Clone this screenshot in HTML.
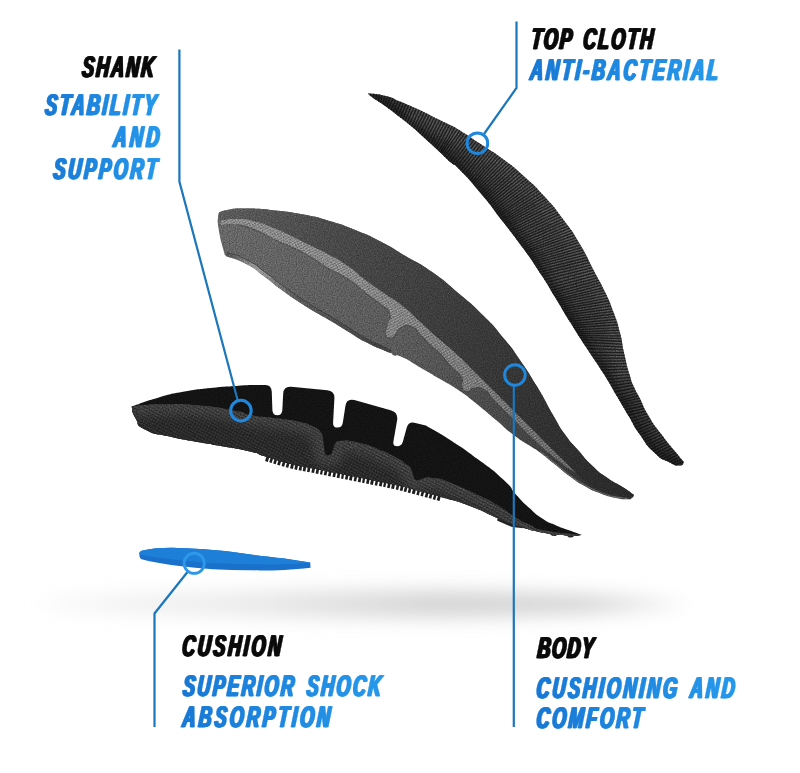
<!DOCTYPE html>
<html><head><meta charset="utf-8"><title>Insole layers</title>
<style>
html,body{margin:0;padding:0;background:#fff;}
body{width:800px;height:773px;overflow:hidden;}
svg{display:block}
text{font-family:"Liberation Sans",sans-serif;font-weight:700;font-style:italic;}
</style></head><body>
<svg width="800" height="773" viewBox="0 0 800 773">
<defs>
 <linearGradient id="tg1" gradientUnits="userSpaceOnUse" x1="-1.0" y1="0" x2="194.0" y2="0"><stop offset="0" stop-color="#1878d4"/><stop offset="1" stop-color="#2699ec"/></linearGradient>
 <linearGradient id="tg2" gradientUnits="userSpaceOnUse" x1="-115.0" y1="0" x2="80.0" y2="0"><stop offset="0" stop-color="#1878d4"/><stop offset="1" stop-color="#2699ec"/></linearGradient>
 <linearGradient id="tg3" gradientUnits="userSpaceOnUse" x1="-15.0" y1="0" x2="180.0" y2="0"><stop offset="0" stop-color="#1878d4"/><stop offset="1" stop-color="#2699ec"/></linearGradient>
 <linearGradient id="tg5" gradientUnits="userSpaceOnUse" x1="-2.7" y1="0" x2="314.0" y2="0"><stop offset="0" stop-color="#1878d4"/><stop offset="1" stop-color="#2699ec"/></linearGradient>
 <linearGradient id="tg7" gradientUnits="userSpaceOnUse" x1="-2.5" y1="0" x2="339.2" y2="0"><stop offset="0" stop-color="#1878d4"/><stop offset="1" stop-color="#2699ec"/></linearGradient>
 <linearGradient id="tg8" gradientUnits="userSpaceOnUse" x1="-1.7" y1="0" x2="340.0" y2="0"><stop offset="0" stop-color="#1878d4"/><stop offset="1" stop-color="#2699ec"/></linearGradient>
 <linearGradient id="tg10" gradientUnits="userSpaceOnUse" x1="0.0" y1="0" x2="335.0" y2="0"><stop offset="0" stop-color="#1878d4"/><stop offset="1" stop-color="#2699ec"/></linearGradient>
 <linearGradient id="tg11" gradientUnits="userSpaceOnUse" x1="0.0" y1="0" x2="335.0" y2="0"><stop offset="0" stop-color="#1878d4"/><stop offset="1" stop-color="#2699ec"/></linearGradient>
 <linearGradient id="shadg" gradientUnits="userSpaceOnUse" x1="40" y1="0" x2="684" y2="0"><stop offset="0" stop-color="#d2d2d2" stop-opacity="0.2"/><stop offset="0.3" stop-color="#d2d2d2" stop-opacity="0.42"/><stop offset="0.62" stop-color="#d0d0d0" stop-opacity="0.9"/><stop offset="0.85" stop-color="#d0d0d0" stop-opacity="0.85"/><stop offset="1" stop-color="#d2d2d2" stop-opacity="0.3"/></linearGradient>
 <radialGradient id="shad" cx="0.5" cy="0.5" r="0.5"><stop offset="0" stop-color="#cfcfcf"/><stop offset="0.6" stop-color="#e4e4e4"/><stop offset="1" stop-color="#ffffff"/></radialGradient>
 <filter id="blur" x="-20%" y="-100%" width="140%" height="300%"><feGaussianBlur stdDeviation="11 9"/></filter>
 <linearGradient id="clothg" gradientUnits="userSpaceOnUse" x1="420" y1="100" x2="660" y2="460"><stop offset="0" stop-color="#404040"/><stop offset="0.45" stop-color="#4e4e4e"/><stop offset="1" stop-color="#3c3c3c"/></linearGradient>
 <linearGradient id="bodyg" gradientUnits="userSpaceOnUse" x1="225" y1="212" x2="620" y2="490"><stop offset="0" stop-color="#5a5a5a"/><stop offset="0.2" stop-color="#4a4a4a"/><stop offset="0.55" stop-color="#3a3a3a"/><stop offset="1" stop-color="#2a2a2a"/></linearGradient>
 <linearGradient id="sideg" gradientUnits="userSpaceOnUse" x1="225" y1="235" x2="600" y2="485"><stop offset="0" stop-color="#666"/><stop offset="0.45" stop-color="#5a5a5a"/><stop offset="0.8" stop-color="#444"/><stop offset="1" stop-color="#333"/></linearGradient>
 <linearGradient id="lipg" gradientUnits="userSpaceOnUse" x1="225" y1="255" x2="390" y2="352"><stop offset="0" stop-color="#505050"/><stop offset="0.18" stop-color="#9a9a9a"/><stop offset="0.42" stop-color="#5a5a5a"/><stop offset="1" stop-color="#404040"/></linearGradient>
 <pattern id="weave" width="2.6" height="2.6" patternUnits="userSpaceOnUse" patternTransform="rotate(-28)"><rect width="2.6" height="1.3" fill="#fff" opacity="0.22"/><rect y="1.3" width="2.6" height="1.3" fill="#000" opacity="0.12"/><rect x="0" width="0.7" height="2.6" fill="#555" opacity="0.35"/></pattern>
 <pattern id="ribs" width="2.3" height="8" patternUnits="userSpaceOnUse" patternTransform="rotate(-38)"><rect width="1.0" height="8" fill="#000" opacity="0.35"/><rect x="1.2" width="0.8" height="8" fill="#fff" opacity="0.07"/></pattern>
 <pattern id="hatch" width="3" height="3" patternUnits="userSpaceOnUse" patternTransform="rotate(28)"><rect width="3" height="3" fill="none"/><rect width="3" height="1.1" fill="#000" opacity="0.35"/><rect width="1.1" height="3" fill="#fff" opacity="0.05"/></pattern>
 <filter id="grain" x="0" y="0" width="100%" height="100%" color-interpolation-filters="sRGB"><feTurbulence type="fractalNoise" baseFrequency="0.85" numOctaves="2" seed="3" result="n"/><feColorMatrix type="matrix" values="1.4 0 0 0 -0.2  1.4 0 0 0 -0.2  1.4 0 0 0 -0.2  0 0 0 0 1"/></filter>
 <linearGradient id="faceg" gradientUnits="userSpaceOnUse" x1="300" y1="415" x2="290" y2="468"><stop offset="0" stop-color="#383838"/><stop offset="0.5" stop-color="#2c2c2c"/><stop offset="1" stop-color="#1c1c1c"/></linearGradient>
 <linearGradient id="bandg" gradientUnits="userSpaceOnUse" x1="225" y1="220" x2="575" y2="470"><stop offset="0" stop-color="#8a8a8a"/><stop offset="0.35" stop-color="#868686"/><stop offset="0.7" stop-color="#727272"/><stop offset="1" stop-color="#5c5c5c"/></linearGradient>
 <clipPath id="cpFace"><path d="M131.6,406.6 C136.1,406.1 133.9,405.8 145.0,405.0 C156.1,404.2 147.5,404.2 165.0,404.3 C182.5,404.4 173.8,403.1 197.6,405.3 C221.4,407.5 218.9,407.8 236.4,411.0 C253.9,414.2 235.1,412.4 250.0,415.0 C264.9,417.6 264.3,416.4 281.0,418.7 C297.7,421.0 289.7,419.6 300.0,422.0 C310.3,424.4 305.7,423.3 312.0,426.0 C318.3,428.7 316.7,428.7 319.0,430.0 L320.8,432.0 Q322.5,434.0 322.8,437.0 L324.5,452.5 Q324.8,455.5 327.8,455.5 L328.0,455.5 Q331.0,455.5 332.0,452.7 L335.0,444.0 Q336.0,441.2 339.0,441.0 L347.3,440.4 C351.5,441.3 351.0,440.6 360.0,443.0 C369.0,445.4 362.5,442.9 374.2,447.6 C385.9,452.3 384.4,451.5 395.0,457.0 C405.6,462.5 402.3,461.7 406.0,464.0 L408.7,466.1 Q411.0,468.0 411.8,470.9 L413.7,477.6 Q414.5,480.5 417.2,480.2 L417.2,480.2 Q420.0,480.0 422.7,478.7 L422.9,478.5 Q425.6,477.2 428.6,477.5 L441.0,479.0 C447.3,481.6 447.0,481.1 460.0,486.8 C473.0,492.5 467.3,489.8 480.0,496.0 C492.7,502.2 485.9,498.2 498.0,505.5 C510.1,512.8 505.7,511.5 516.4,518.0 C527.1,524.5 520.5,520.8 530.0,525.0 C539.5,529.2 527.6,527.2 544.9,530.5 C562.2,533.8 569.6,533.5 582.0,535.0 C577.3,535.2 580.4,536.2 568.0,535.5 C555.6,534.8 562.1,536.3 544.9,533.0 C527.7,529.7 531.9,530.3 516.4,525.5 C500.9,520.7 513.8,525.0 498.3,518.5 C482.8,512.0 489.1,513.2 470.0,506.0 C450.9,498.8 459.3,502.3 441.0,497.0 C422.7,491.7 430.5,494.0 415.2,490.0 C399.9,486.0 408.7,488.1 395.0,485.0 C381.3,481.9 388.0,483.6 374.2,480.8 C360.4,478.0 367.3,479.4 353.5,476.6 C339.7,473.8 346.6,475.3 332.8,472.5 C319.0,469.7 325.8,471.1 312.0,468.3 C298.2,465.5 306.5,468.0 291.4,464.2 C276.3,460.4 280.4,461.2 266.6,457.0 C252.8,452.8 264.4,455.0 250.0,451.5 C235.6,448.0 241.0,449.7 223.5,446.5 C206.0,443.3 214.9,445.2 197.6,442.0 C180.3,438.8 188.9,441.0 171.7,437.0 C154.5,433.0 158.0,436.3 145.9,430.0 C133.8,423.7 140.3,426.0 135.5,418.2 C130.7,410.4 132.9,410.5 131.6,406.6 Z"/></clipPath>
 <filter id="b4" x="-10%" y="-30%" width="120%" height="160%"><feGaussianBlur stdDeviation="5"/></filter>
 <clipPath id="cpCloth"><path d="M367.8,93.3 C373.8,94.2 375.6,93.4 385.9,96.0 C396.2,98.6 390.2,97.5 398.8,101.0 C407.4,104.5 403.1,102.7 411.7,106.5 C420.3,110.3 416.1,108.3 424.7,112.4 C433.3,116.5 429.0,114.6 437.6,118.9 C446.2,123.2 443.1,121.4 450.6,125.3 C458.1,129.2 449.5,123.9 460.0,130.5 C470.5,137.1 467.7,135.5 482.0,145.0 C496.3,154.5 489.0,148.7 502.8,159.0 C516.6,169.3 509.8,163.7 523.5,176.0 C537.2,188.3 530.5,181.2 544.0,196.0 C557.5,210.8 552.2,204.7 564.0,220.5 C575.8,236.3 569.5,226.7 579.5,243.5 C589.5,260.3 585.5,254.8 594.0,271.0 C602.5,287.2 598.5,278.2 605.0,292.0 C611.5,305.8 608.6,298.9 613.6,312.5 C618.6,326.1 616.5,319.1 620.0,332.8 C623.5,346.5 621.1,339.7 624.2,353.5 C627.3,367.3 626.0,362.7 629.4,374.2 C632.8,385.7 631.1,380.1 634.5,388.0 C637.9,395.9 634.9,388.6 639.7,398.0 C644.5,407.4 641.6,404.1 648.8,416.2 C656.0,428.3 652.3,422.2 661.4,434.3 C670.5,446.4 668.5,443.3 676.0,452.5 C683.5,461.7 681.3,458.8 684.0,462.0 C682.5,463.2 684.7,465.5 679.6,465.5 C674.5,465.5 677.2,466.3 668.7,462.0 C660.2,457.7 663.9,461.7 654.2,452.5 C644.5,443.3 648.2,446.4 639.7,434.3 C631.2,422.2 636.0,428.3 628.8,416.2 C621.6,404.1 626.4,412.2 618.0,398.0 C609.6,383.8 613.8,390.0 603.5,373.5 C593.2,357.0 598.0,365.5 587.0,348.5 C576.0,331.5 580.8,339.2 570.4,322.5 C560.0,305.8 565.6,314.3 555.9,298.5 C546.2,282.7 552.4,291.8 541.4,275.0 C530.4,258.2 535.9,265.8 523.0,248.0 C510.1,230.2 516.5,239.2 502.8,221.5 C489.1,203.8 496.3,212.0 482.0,194.8 C467.7,177.6 470.5,180.9 460.0,170.0 C449.5,159.1 458.1,168.9 450.6,162.2 C443.1,155.5 446.2,157.9 437.6,149.9 C429.0,141.9 433.3,146.1 424.7,138.3 C416.1,130.5 420.3,133.9 411.7,126.6 C403.1,119.3 407.4,123.0 398.8,116.3 C390.2,109.6 394.5,112.7 385.9,106.5 C377.3,100.3 378.9,102.2 372.9,97.8 C366.9,93.4 369.5,94.8 367.8,93.3 Z"/></clipPath>
 <clipPath id="cpBody"><path d="M218.0,215.9 C220.6,214.0 214.7,212.6 225.9,210.2 C237.1,207.8 234.5,208.4 251.7,208.6 C268.9,208.8 260.3,208.7 277.6,210.7 C294.9,212.7 286.2,211.2 303.5,214.6 C320.8,218.0 312.2,215.9 329.4,221.0 C346.6,226.1 338.0,223.1 355.2,230.0 C372.4,236.9 364.1,233.0 381.0,241.7 C397.9,250.4 389.0,246.2 405.9,256.2 C422.8,266.2 414.5,259.6 431.7,271.7 C448.9,283.8 440.3,277.7 457.6,292.4 C474.9,307.1 468.0,300.2 483.5,315.7 C499.0,331.2 492.1,324.3 504.2,339.0 C516.3,353.7 508.8,343.8 519.7,359.7 C530.6,375.6 526.0,368.3 537.0,386.6 C548.0,404.9 543.4,398.5 552.7,414.5 C562.0,430.5 556.7,422.8 565.0,434.5 C573.3,446.2 568.3,439.0 577.5,449.5 C586.7,460.0 582.5,456.5 592.5,466.0 C602.5,475.5 597.5,471.0 607.5,478.0 C617.5,485.0 613.7,481.3 622.5,487.0 C631.3,492.7 630.2,492.3 634.0,495.0 C633.3,496.0 634.3,496.6 632.0,498.0 C629.7,499.4 632.7,499.4 627.0,499.3 C621.3,499.2 624.0,499.8 615.0,497.8 C606.0,495.8 610.0,497.1 600.0,493.3 C590.0,489.5 595.0,491.9 585.0,486.3 C575.0,480.7 580.0,483.8 570.0,476.5 C560.0,469.2 565.0,472.5 555.0,464.5 C545.0,456.5 548.1,458.6 540.0,452.5 C531.9,446.4 539.6,452.3 530.6,446.3 C521.6,440.3 524.5,443.3 513.0,434.5 C501.5,425.7 508.3,430.3 496.0,420.0 C483.7,409.7 488.9,413.6 476.2,403.5 C463.5,393.4 470.1,398.0 458.0,389.8 C445.9,381.6 452.5,386.4 440.0,379.0 C427.5,371.6 433.1,374.9 420.6,367.7 C408.1,360.5 411.4,361.4 402.5,357.3 C393.6,353.2 397.8,356.9 394.0,355.5 C390.2,354.1 394.2,354.7 391.0,353.0 C387.8,351.3 392.6,354.1 384.3,350.5 C376.0,346.9 378.3,348.7 366.2,342.3 C354.1,335.9 360.1,338.7 348.0,331.4 C335.9,324.1 339.8,326.3 330.0,320.5 C320.2,314.7 328.5,319.8 318.7,314.0 C308.9,308.2 312.7,310.8 300.6,303.0 C288.5,295.2 294.6,299.4 282.5,290.6 C270.4,281.8 276.4,285.4 264.3,276.5 C252.2,267.6 259.0,270.8 246.2,264.0 C233.4,257.2 232.7,258.7 225.9,256.0 C225.0,253.8 225.7,258.6 223.3,249.5 C220.9,240.4 220.4,240.0 218.6,228.8 C216.8,217.6 218.2,220.2 218.0,215.9 Z"/></clipPath>
 <clipPath id="cpShank"><path d="M131.6,406.6 C140.7,403.6 141.1,402.5 158.8,397.5 C176.5,392.5 167.4,394.8 184.7,391.6 C202.0,388.4 193.4,389.9 210.6,388.0 C227.8,386.1 220.0,386.9 236.4,385.9 C252.8,384.9 251.9,385.3 259.7,385.0 L265.6,385.1 Q271.5,385.2 271.8,392.2 L272.4,410.3 Q272.6,415.3 277.3,415.3 L277.3,415.3 Q282.0,415.3 282.3,410.3 L283.2,393.5 Q283.6,386.0 291.1,386.7 L327.3,390.3 Q334.8,391.0 334.4,398.5 L333.1,422.6 Q332.8,427.6 337.4,427.6 L337.4,427.6 Q342.0,427.6 342.8,422.7 L345.4,405.9 Q346.6,398.0 354.3,400.1 L390.7,410.2 Q398.4,412.3 397.1,420.2 L393.4,441.4 Q392.6,446.3 397.1,446.3 L397.1,446.3 Q401.6,446.3 402.9,441.5 L406.6,428.0 Q408.5,421.3 415.3,422.9 L425.9,425.4 C434.5,430.6 434.5,429.7 451.7,440.9 C468.9,452.1 460.3,446.1 477.6,459.0 C494.9,471.9 490.6,467.7 503.5,479.7 C516.4,491.7 507.8,485.6 516.4,495.0 C525.0,504.4 520.8,500.2 529.4,508.0 C538.0,515.8 533.7,512.8 542.3,518.5 C550.9,524.2 546.6,521.2 555.2,525.0 C563.8,528.8 559.3,526.7 568.2,530.0 C577.1,533.3 577.4,533.3 582.0,535.0 C577.3,535.2 580.4,536.2 568.0,535.5 C555.6,534.8 562.1,536.3 544.9,533.0 C527.7,529.7 531.9,530.3 516.4,525.5 C500.9,520.7 513.8,525.0 498.3,518.5 C482.8,512.0 489.1,513.2 470.0,506.0 C450.9,498.8 459.3,502.3 441.0,497.0 C422.7,491.7 430.5,494.0 415.2,490.0 C399.9,486.0 408.7,488.1 395.0,485.0 C381.3,481.9 388.0,483.6 374.2,480.8 C360.4,478.0 367.3,479.4 353.5,476.6 C339.7,473.8 346.6,475.3 332.8,472.5 C319.0,469.7 325.8,471.1 312.0,468.3 C298.2,465.5 306.5,468.0 291.4,464.2 C276.3,460.4 280.4,461.2 266.6,457.0 C252.8,452.8 264.4,455.0 250.0,451.5 C235.6,448.0 241.0,449.7 223.5,446.5 C206.0,443.3 214.9,445.2 197.6,442.0 C180.3,438.8 188.9,441.0 171.7,437.0 C154.5,433.0 158.0,436.3 145.9,430.0 C133.8,423.7 140.3,426.0 135.5,418.2 C130.7,410.4 132.9,410.5 131.6,406.6 Z"/></clipPath>
</defs>
<rect width="800" height="773" fill="#fff"/>
<ellipse cx="362" cy="604" rx="322" ry="14" fill="url(#shadg)" filter="url(#blur)"/>
<!-- top cloth -->
<path d="M367.8,93.3 C373.8,94.2 375.6,93.4 385.9,96.0 C396.2,98.6 390.2,97.5 398.8,101.0 C407.4,104.5 403.1,102.7 411.7,106.5 C420.3,110.3 416.1,108.3 424.7,112.4 C433.3,116.5 429.0,114.6 437.6,118.9 C446.2,123.2 443.1,121.4 450.6,125.3 C458.1,129.2 449.5,123.9 460.0,130.5 C470.5,137.1 467.7,135.5 482.0,145.0 C496.3,154.5 489.0,148.7 502.8,159.0 C516.6,169.3 509.8,163.7 523.5,176.0 C537.2,188.3 530.5,181.2 544.0,196.0 C557.5,210.8 552.2,204.7 564.0,220.5 C575.8,236.3 569.5,226.7 579.5,243.5 C589.5,260.3 585.5,254.8 594.0,271.0 C602.5,287.2 598.5,278.2 605.0,292.0 C611.5,305.8 608.6,298.9 613.6,312.5 C618.6,326.1 616.5,319.1 620.0,332.8 C623.5,346.5 621.1,339.7 624.2,353.5 C627.3,367.3 626.0,362.7 629.4,374.2 C632.8,385.7 631.1,380.1 634.5,388.0 C637.9,395.9 634.9,388.6 639.7,398.0 C644.5,407.4 641.6,404.1 648.8,416.2 C656.0,428.3 652.3,422.2 661.4,434.3 C670.5,446.4 668.5,443.3 676.0,452.5 C683.5,461.7 681.3,458.8 684.0,462.0 C682.5,463.2 684.7,465.5 679.6,465.5 C674.5,465.5 677.2,466.3 668.7,462.0 C660.2,457.7 663.9,461.7 654.2,452.5 C644.5,443.3 648.2,446.4 639.7,434.3 C631.2,422.2 636.0,428.3 628.8,416.2 C621.6,404.1 626.4,412.2 618.0,398.0 C609.6,383.8 613.8,390.0 603.5,373.5 C593.2,357.0 598.0,365.5 587.0,348.5 C576.0,331.5 580.8,339.2 570.4,322.5 C560.0,305.8 565.6,314.3 555.9,298.5 C546.2,282.7 552.4,291.8 541.4,275.0 C530.4,258.2 535.9,265.8 523.0,248.0 C510.1,230.2 516.5,239.2 502.8,221.5 C489.1,203.8 496.3,212.0 482.0,194.8 C467.7,177.6 470.5,180.9 460.0,170.0 C449.5,159.1 458.1,168.9 450.6,162.2 C443.1,155.5 446.2,157.9 437.6,149.9 C429.0,141.9 433.3,146.1 424.7,138.3 C416.1,130.5 420.3,133.9 411.7,126.6 C403.1,119.3 407.4,123.0 398.8,116.3 C390.2,109.6 394.5,112.7 385.9,106.5 C377.3,100.3 378.9,102.2 372.9,97.8 C366.9,93.4 369.5,94.8 367.8,93.3 Z" fill="url(#clothg)"/>
<g clip-path="url(#cpCloth)"><path d="M684.0,462.0 C682.5,463.2 684.7,465.5 679.6,465.5 C674.5,465.5 677.2,466.3 668.7,462.0 C660.2,457.7 663.9,461.7 654.2,452.5 C644.5,443.3 648.2,446.4 639.7,434.3 C631.2,422.2 636.0,428.3 628.8,416.2 C621.6,404.1 626.4,412.2 618.0,398.0 C609.6,383.8 613.8,390.0 603.5,373.5 C593.2,357.0 598.0,365.5 587.0,348.5 C576.0,331.5 580.8,339.2 570.4,322.5 C560.0,305.8 565.6,314.3 555.9,298.5 C546.2,282.7 552.4,291.8 541.4,275.0 C530.4,258.2 535.9,265.8 523.0,248.0 C510.1,230.2 516.5,239.2 502.8,221.5 C489.1,203.8 496.3,212.0 482.0,194.8 C467.7,177.6 470.5,180.9 460.0,170.0 C449.5,159.1 458.1,168.9 450.6,162.2 C443.1,155.5 446.2,157.9 437.6,149.9 C429.0,141.9 433.3,146.1 424.7,138.3 C416.1,130.5 420.3,133.9 411.7,126.6 C403.1,119.3 407.4,123.0 398.8,116.3 C390.2,109.6 394.5,112.7 385.9,106.5 C377.3,100.3 378.9,102.2 372.9,97.8 C366.9,93.4 369.5,94.8 367.8,93.3" fill="none" stroke="#161616" stroke-width="12" filter="url(#b4)" opacity="0.8"/><path d="M411.7,106.5 C416.0,108.5 416.1,108.3 424.7,112.4 C433.3,116.5 429.0,114.6 437.6,118.9 C446.2,123.2 443.1,121.4 450.6,125.3 C458.1,129.2 449.5,123.9 460.0,130.5 C470.5,137.1 467.7,135.5 482.0,145.0 C496.3,154.5 489.0,148.7 502.8,159.0 C516.6,169.3 509.8,163.7 523.5,176.0 C537.2,188.3 530.5,181.2 544.0,196.0 C557.5,210.8 552.2,204.7 564.0,220.5 C575.8,236.3 569.5,226.7 579.5,243.5 C589.5,260.3 585.5,254.8 594.0,271.0 C602.5,287.2 598.5,278.2 605.0,292.0 C611.5,305.8 608.6,298.9 613.6,312.5 C618.6,326.1 616.5,319.1 620.0,332.8 C623.5,346.5 621.1,339.7 624.2,353.5 C627.3,367.3 627.7,367.3 629.4,374.2" fill="none" stroke="#5c5c5c" stroke-width="12" filter="url(#b4)" opacity="0.75" transform="translate(-4,5)"/></g>
<g clip-path="url(#cpCloth)"><path d="M371.3,89.7 l-7.2,59.6 M374.1,90.1 l-7.4,59.5 M377.0,90.4 l-7.9,59.5 M379.8,90.8 l-8.9,59.3 M382.7,91.3 l-10.0,59.2 M385.7,91.8 l-12.5,58.7 M388.8,92.6 l-17.3,57.4 M391.7,93.6 l-21.2,56.1 M394.6,94.8 l-23.8,55.1 M397.2,96.0 l-24.5,54.8 M399.7,97.0 l-22.9,55.5 M402.4,98.1 l-23.0,55.4 M405.0,99.2 l-23.4,55.3 M407.7,100.4 l-23.7,55.1 M410.3,101.5 l-24.0,55.0 M412.9,102.7 l-24.2,54.9 M415.5,103.8 l-24.3,54.9 M418.1,105.0 l-24.5,54.8 M420.8,106.2 l-24.8,54.6 M423.4,107.4 l-25.3,54.4 M426.0,108.6 l-25.8,54.2 M428.6,109.9 l-26.6,53.8 M431.2,111.2 l-27.2,53.5 M433.8,112.5 l-27.4,53.4 M436.3,113.8 l-27.4,53.4 M438.8,115.0 l-27.2,53.5 M441.4,116.3 l-27.0,53.6 M443.9,117.5 l-27.0,53.6 M446.5,118.8 l-27.3,53.4 M449.1,120.1 l-27.8,53.2 M451.7,121.4 l-28.7,52.7 M454.2,122.7 l-28.5,52.8 M456.9,124.0 l-30.1,51.9 M459.5,125.5 l-32.7,50.3 M462.1,127.1 l-34.1,49.4 M464.5,128.6 l-34.9,48.8 M466.9,130.2 l-35.4,48.5 M469.4,131.8 l-35.9,48.1 M471.8,133.4 l-36.2,47.9 M474.2,135.0 l-36.5,47.6 M476.5,136.6 l-36.7,47.4 M478.9,138.2 l-37.0,47.3 M481.3,139.8 l-37.2,47.1 M483.7,141.3 l-37.3,47.0 M486.1,142.9 l-37.3,47.0 M488.5,144.5 l-37.3,47.0 M490.9,146.0 l-37.4,46.9 M493.3,147.6 l-37.7,46.7 M495.7,149.2 l-38.1,46.4 M498.1,150.8 l-38.7,45.9 M500.5,152.5 l-39.6,45.1 M502.9,154.1 l-40.4,44.3 M505.3,155.9 l-41.3,43.5 M507.6,157.6 l-42.0,42.8 M509.9,159.4 l-42.8,42.1 M512.2,161.2 l-43.3,41.5 M514.4,163.0 l-43.9,40.9 M516.7,164.9 l-44.4,40.3 M518.9,166.7 l-45.0,39.7 M521.1,168.6 l-45.5,39.1 M523.3,170.5 l-46.0,38.5 M525.5,172.5 l-46.5,37.9 M527.6,174.4 l-47.0,37.4 M529.8,176.4 l-47.4,36.8 M531.9,178.3 l-47.8,36.3 M534.0,180.3 l-48.3,35.7 M536.1,182.3 l-48.7,35.0 M538.2,184.3 l-49.3,34.3 M540.3,186.4 l-49.8,33.5 M542.3,188.5 l-50.4,32.6 M544.3,190.6 l-50.7,32.1 M546.3,192.7 l-51.3,31.1 M548.2,194.9 l-51.9,30.1 M550.2,197.1 l-52.4,29.2 M552.1,199.3 l-52.9,28.3 M554.0,201.5 l-53.3,27.5 M555.8,203.7 l-53.6,27.0 M557.6,206.0 l-53.8,26.5 M559.4,208.2 l-54.1,26.0 M561.2,210.5 l-54.3,25.6 M563.0,212.7 l-54.5,25.1 M564.7,215.0 l-54.6,24.9 M566.5,217.3 l-54.8,24.5 M568.2,219.6 l-54.9,24.1 M569.9,221.9 l-55.1,23.7 M571.6,224.3 l-55.3,23.2 M573.3,226.6 l-55.6,22.7 M574.9,229.0 l-55.8,22.1 M576.5,231.4 l-56.0,21.4 M578.1,233.8 l-56.4,20.4 M579.7,236.3 l-56.7,19.7 M581.2,238.8 l-56.9,19.1 M582.7,241.2 l-57.1,18.4 M584.2,243.8 l-57.4,17.4 M585.6,246.3 l-57.6,16.9 M587.0,248.8 l-57.8,16.0 M588.3,251.4 l-58.0,15.4 M589.6,253.9 l-58.1,14.9 M591.0,256.5 l-58.2,14.6 M592.3,259.0 l-58.2,14.5 M593.5,261.6 l-58.2,14.4 M594.8,264.1 l-58.2,14.5 M596.1,266.6 l-58.2,14.7 M597.4,269.1 l-58.1,15.1 M598.7,271.6 l-58.0,15.5 M600.1,274.1 l-57.9,15.8 M601.4,276.6 l-57.9,15.9 M602.8,279.1 l-57.9,15.9 M604.1,281.7 l-57.9,15.7 M605.5,284.2 l-58.1,15.1 M606.8,286.8 l-58.2,14.5 M608.1,289.4 l-58.5,13.4 M609.3,292.1 l-58.7,12.6 M610.5,294.7 l-58.8,11.9 M611.7,297.3 l-58.9,11.3 M612.8,300.0 l-59.1,10.5 M614.0,302.7 l-59.2,9.7 M615.0,305.3 l-59.3,9.2 M616.1,308.1 l-59.4,8.4 M617.1,310.8 l-59.5,7.9 M618.1,313.5 l-59.6,7.1 M619.1,316.2 l-59.7,6.3 M620.0,319.0 l-59.7,5.8 M620.9,321.7 l-59.8,4.9 M621.7,324.5 l-59.9,4.0 M622.5,327.3 l-59.9,3.4 M623.3,330.1 l-60.0,2.4 M624.0,332.9 l-60.0,1.2 M624.7,335.8 l-60.0,-0.1 M625.3,338.7 l-60.0,-1.6 M625.8,341.5 l-59.9,-2.5 M626.4,344.3 l-59.9,-2.8 M626.9,347.1 l-59.9,-2.6 M627.4,349.9 l-60.0,-1.9 M628.0,352.6 l-60.0,-0.5 M628.6,355.3 l-60.0,-0.1 M629.3,358.1 l-60.0,0.2 M629.9,360.9 l-60.0,0.4 M630.6,363.6 l-60.0,0.9 M631.3,366.3 l-60.0,1.2 M632.0,369.0 l-60.0,1.9 M632.7,371.7 l-59.9,2.8 M633.5,374.4 l-59.9,4.0 M634.4,377.0 l-59.8,5.3 M635.3,379.6 l-59.6,7.0 M636.3,382.2 l-59.4,8.6 M637.3,384.7 l-59.2,9.9 M638.4,387.3 l-59.0,11.2 M639.6,389.6 l-58.2,14.6 M640.9,392.0 l-57.6,16.7 M642.3,394.5 l-57.9,15.8 M643.6,397.2 l-58.3,14.1 M644.9,399.8 l-58.6,12.9 M646.1,402.4 l-58.7,12.5 M647.3,405.0 l-58.6,12.8 M648.6,407.5 l-58.5,13.3 M649.8,410.0 l-58.2,14.5 M651.1,412.4 l-57.7,16.4 M652.5,414.8 l-57.2,18.0 M653.9,417.1 l-56.6,19.8 M655.4,419.4 l-56.1,21.2 M657.0,421.7 l-55.8,22.0 M658.6,424.0 l-55.5,22.9 M660.3,426.2 l-55.3,23.4 M661.9,428.5 l-55.0,23.9 M663.6,430.8 l-54.9,24.1 M665.3,433.0 l-54.8,24.4 M667.0,435.3 l-54.5,25.1 M668.8,437.5 l-54.2,25.7 M670.5,439.7 l-54.0,26.1 M672.3,441.9 l-53.9,26.3 M674.1,444.1 l-53.8,26.5 M675.9,446.3 l-53.7,26.7 M677.7,448.5 l-53.7,26.7 M679.5,450.7 l-53.8,26.5 M681.3,452.8 l-53.6,27.0 M683.2,455.0 l-53.4,27.3 M685.0,457.2 l-53.2,27.7 M686.8,459.3 l-53.2,27.8" stroke="#0e0e0e" stroke-opacity="0.75" stroke-width="1.3" fill="none"/></g>
<g clip-path="url(#cpCloth)" style="mix-blend-mode:overlay" opacity="0.35"><rect x="360" y="90" width="330" height="380" filter="url(#grain)"/></g>
<!-- body -->
<path d="M218.0,215.9 C220.6,214.0 214.7,212.6 225.9,210.2 C237.1,207.8 234.5,208.4 251.7,208.6 C268.9,208.8 260.3,208.7 277.6,210.7 C294.9,212.7 286.2,211.2 303.5,214.6 C320.8,218.0 312.2,215.9 329.4,221.0 C346.6,226.1 338.0,223.1 355.2,230.0 C372.4,236.9 364.1,233.0 381.0,241.7 C397.9,250.4 389.0,246.2 405.9,256.2 C422.8,266.2 414.5,259.6 431.7,271.7 C448.9,283.8 440.3,277.7 457.6,292.4 C474.9,307.1 468.0,300.2 483.5,315.7 C499.0,331.2 492.1,324.3 504.2,339.0 C516.3,353.7 508.8,343.8 519.7,359.7 C530.6,375.6 526.0,368.3 537.0,386.6 C548.0,404.9 543.4,398.5 552.7,414.5 C562.0,430.5 556.7,422.8 565.0,434.5 C573.3,446.2 568.3,439.0 577.5,449.5 C586.7,460.0 582.5,456.5 592.5,466.0 C602.5,475.5 597.5,471.0 607.5,478.0 C617.5,485.0 613.7,481.3 622.5,487.0 C631.3,492.7 630.2,492.3 634.0,495.0 C633.3,496.0 634.3,496.6 632.0,498.0 C629.7,499.4 632.7,499.4 627.0,499.3 C621.3,499.2 624.0,499.8 615.0,497.8 C606.0,495.8 610.0,497.1 600.0,493.3 C590.0,489.5 595.0,491.9 585.0,486.3 C575.0,480.7 580.0,483.8 570.0,476.5 C560.0,469.2 565.0,472.5 555.0,464.5 C545.0,456.5 548.1,458.6 540.0,452.5 C531.9,446.4 539.6,452.3 530.6,446.3 C521.6,440.3 524.5,443.3 513.0,434.5 C501.5,425.7 508.3,430.3 496.0,420.0 C483.7,409.7 488.9,413.6 476.2,403.5 C463.5,393.4 470.1,398.0 458.0,389.8 C445.9,381.6 452.5,386.4 440.0,379.0 C427.5,371.6 433.1,374.9 420.6,367.7 C408.1,360.5 411.4,361.4 402.5,357.3 C393.6,353.2 397.8,356.9 394.0,355.5 C390.2,354.1 394.2,354.7 391.0,353.0 C387.8,351.3 392.6,354.1 384.3,350.5 C376.0,346.9 378.3,348.7 366.2,342.3 C354.1,335.9 360.1,338.7 348.0,331.4 C335.9,324.1 339.8,326.3 330.0,320.5 C320.2,314.7 328.5,319.8 318.7,314.0 C308.9,308.2 312.7,310.8 300.6,303.0 C288.5,295.2 294.6,299.4 282.5,290.6 C270.4,281.8 276.4,285.4 264.3,276.5 C252.2,267.6 259.0,270.8 246.2,264.0 C233.4,257.2 232.7,258.7 225.9,256.0 C225.0,253.8 225.7,258.6 223.3,249.5 C220.9,240.4 220.4,240.0 218.6,228.8 C216.8,217.6 218.2,220.2 218.0,215.9 Z" fill="url(#sideg)"/>
<path d="M391.0,353.0 C388.8,352.2 392.6,354.1 384.3,350.5 C376.0,346.9 378.3,348.7 366.2,342.3 C354.1,335.9 360.1,338.7 348.0,331.4 C335.9,324.1 339.8,326.3 330.0,320.5 C320.2,314.7 328.5,319.8 318.7,314.0 C308.9,308.2 312.7,310.8 300.6,303.0 C288.5,295.2 294.6,299.4 282.5,290.6 C270.4,281.8 276.4,285.4 264.3,276.5 C252.2,267.6 259.0,270.8 246.2,264.0 C233.4,257.2 232.7,258.7 225.9,256.0 L227.0,252.5 C233.4,254.8 233.8,253.2 246.2,259.5 C258.6,265.8 252.2,262.8 264.3,271.5 C276.4,280.2 270.4,276.8 282.5,285.6 C294.6,294.4 288.5,290.0 300.6,298.0 C312.7,306.0 308.9,303.5 318.7,309.5 C328.5,315.5 320.2,310.2 330.0,316.0 C339.8,321.8 335.9,319.6 348.0,327.0 C360.1,334.4 354.1,331.6 366.2,338.3 C378.3,345.0 376.0,343.1 384.3,347.0 C392.6,350.9 388.8,349.0 391.0,350.0 L391.0,353.0 Z" fill="url(#lipg)"/>
<path d="M227.0,252.5 C233.4,254.8 233.8,253.2 246.2,259.5 C258.6,265.8 252.2,262.8 264.3,271.5 C276.4,280.2 270.4,276.8 282.5,285.6 C294.6,294.4 288.5,290.0 300.6,298.0 C312.7,306.0 308.9,303.5 318.7,309.5 C328.5,315.5 320.2,310.2 330.0,316.0 C339.8,321.8 335.9,319.6 348.0,327.0 C360.1,334.4 354.1,331.6 366.2,338.3 C378.3,345.0 376.0,343.1 384.3,347.0 C392.6,350.9 388.8,349.0 391.0,350.0" fill="none" stroke="#333" stroke-opacity="0.7" stroke-width="1"/>
<path d="M218.0,215.9 C220.6,214.0 214.7,212.6 225.9,210.2 C237.1,207.8 234.5,208.4 251.7,208.6 C268.9,208.8 260.3,208.7 277.6,210.7 C294.9,212.7 286.2,211.2 303.5,214.6 C320.8,218.0 312.2,215.9 329.4,221.0 C346.6,226.1 338.0,223.1 355.2,230.0 C372.4,236.9 364.1,233.0 381.0,241.7 C397.9,250.4 389.0,246.2 405.9,256.2 C422.8,266.2 414.5,259.6 431.7,271.7 C448.9,283.8 440.3,277.7 457.6,292.4 C474.9,307.1 468.0,300.2 483.5,315.7 C499.0,331.2 492.1,324.3 504.2,339.0 C516.3,353.7 508.8,343.8 519.7,359.7 C530.6,375.6 526.0,368.3 537.0,386.6 C548.0,404.9 543.4,398.5 552.7,414.5 C562.0,430.5 556.7,422.8 565.0,434.5 C573.3,446.2 568.3,439.0 577.5,449.5 C586.7,460.0 582.5,456.5 592.5,466.0 C602.5,475.5 597.5,471.0 607.5,478.0 C617.5,485.0 613.7,481.3 622.5,487.0 C631.3,492.7 630.2,492.3 634.0,495.0 L630.0,498.0 C625.0,497.0 625.0,497.7 615.0,495.0 C605.0,492.3 610.0,494.5 600.0,490.0 C590.0,485.5 593.0,487.2 585.0,481.5 C577.0,475.8 579.0,475.8 576.0,473.0 C571.3,468.3 571.1,468.0 562.0,459.0 C552.9,450.0 559.2,456.4 548.7,446.0 C538.2,435.6 542.7,439.9 530.6,427.8 C518.5,415.7 524.6,421.8 512.5,409.7 C500.4,397.6 506.4,403.7 494.3,391.6 C482.2,379.5 488.3,385.6 476.2,373.5 C464.1,361.4 470.5,367.0 458.0,355.4 C445.5,343.8 451.2,349.7 438.7,338.7 C426.2,327.7 432.7,333.3 420.6,322.4 C408.5,311.5 414.6,315.7 402.5,306.0 C390.4,296.3 396.4,301.8 384.3,293.4 C372.2,285.0 378.3,289.8 366.2,280.7 C354.1,271.6 360.8,275.0 348.0,266.2 C335.2,257.4 340.6,261.3 327.8,254.3 C315.0,247.3 321.7,251.3 309.6,245.3 C297.5,239.3 303.6,242.0 291.5,236.2 C279.4,230.4 285.5,232.8 273.4,228.0 C261.3,223.2 267.4,224.7 255.3,221.7 C243.2,218.7 248.7,219.3 237.2,219.0 C225.7,218.7 226.3,220.2 220.9,220.8 L218.0,215.9 Z" fill="url(#bodyg)"/>
<path d="M220.9,220.8 C226.3,220.2 225.7,218.7 237.2,219.0 C248.7,219.3 243.2,218.7 255.3,221.7 C267.4,224.7 261.3,223.2 273.4,228.0 C285.5,232.8 279.4,230.4 291.5,236.2 C303.6,242.0 297.5,239.3 309.6,245.3 C321.7,251.3 315.0,247.3 327.8,254.3 C340.6,261.3 335.2,257.4 348.0,266.2 C360.8,275.0 354.1,271.6 366.2,280.7 C378.3,289.8 372.2,285.0 384.3,293.4 C396.4,301.8 390.4,296.3 402.5,306.0 C414.6,315.7 408.5,311.5 420.6,322.4 C432.7,333.3 426.2,327.7 438.7,338.7 C451.2,349.7 445.5,343.8 458.0,355.4 C470.5,367.0 464.1,361.4 476.2,373.5 C488.3,385.6 482.2,379.5 494.3,391.6 C506.4,403.7 500.4,397.6 512.5,409.7 C524.6,421.8 518.5,415.7 530.6,427.8 C542.7,439.9 538.2,435.6 548.7,446.0 C559.2,456.4 552.9,450.0 562.0,459.0 C571.1,468.0 571.3,468.3 576.0,473.0 C571.7,470.2 572.1,471.1 563.0,464.5 C553.9,457.9 559.5,462.4 548.7,453.2 C537.9,444.0 542.7,448.4 530.6,436.9 C518.5,425.4 524.6,430.9 512.5,418.8 C500.4,406.7 503.4,410.1 494.3,400.7 C485.2,391.3 491.9,394.7 485.3,390.5 C478.7,386.3 480.4,387.6 474.4,388.0 C468.4,388.4 471.4,392.2 467.2,391.6 C463.0,391.0 463.6,391.1 461.7,386.2 C459.8,381.3 465.1,383.7 461.5,377.0 C457.9,370.3 458.1,374.0 450.9,366.2 C443.7,358.4 446.5,360.2 440.0,353.5 C433.5,346.8 437.9,352.2 431.4,346.0 C424.9,339.8 427.2,341.5 420.6,335.0 C414.0,328.5 418.1,328.9 411.5,326.5 C404.9,324.1 406.1,325.0 400.7,327.8 C395.3,330.6 398.8,331.7 395.2,335.0 C391.6,338.3 393.1,338.4 389.8,337.8 C386.5,337.2 386.1,337.8 385.3,333.3 C384.5,328.8 386.1,330.9 387.5,324.2 C388.9,317.5 391.8,319.9 389.5,313.3 C387.2,306.7 388.5,310.9 380.7,304.3 C372.9,297.7 377.1,301.8 366.2,293.4 C355.3,285.0 360.8,287.5 348.0,279.0 C335.2,270.5 340.6,275.6 327.8,268.0 C315.0,260.4 321.7,263.2 309.6,256.2 C297.5,249.2 303.6,252.7 291.5,247.0 C279.4,241.3 285.5,244.7 273.4,239.0 C261.3,233.3 267.4,234.7 255.3,229.9 C243.2,225.1 248.7,226.3 237.2,224.5 C225.7,222.7 226.3,224.5 220.9,224.5 Z" fill="url(#bandg)"/>
<path d="M220.9,220.8 C226.3,220.2 225.7,218.7 237.2,219.0 C248.7,219.3 243.2,218.7 255.3,221.7 C267.4,224.7 261.3,223.2 273.4,228.0 C285.5,232.8 279.4,230.4 291.5,236.2 C303.6,242.0 297.5,239.3 309.6,245.3 C321.7,251.3 315.0,247.3 327.8,254.3 C340.6,261.3 335.2,257.4 348.0,266.2 C360.8,275.0 354.1,271.6 366.2,280.7 C378.3,289.8 372.2,285.0 384.3,293.4 C396.4,301.8 390.4,296.3 402.5,306.0 C414.6,315.7 408.5,311.5 420.6,322.4 C432.7,333.3 426.2,327.7 438.7,338.7 C451.2,349.7 445.5,343.8 458.0,355.4 C470.5,367.0 464.1,361.4 476.2,373.5 C488.3,385.6 482.2,379.5 494.3,391.6 C506.4,403.7 500.4,397.6 512.5,409.7 C524.6,421.8 518.5,415.7 530.6,427.8 C542.7,439.9 538.2,435.6 548.7,446.0 C559.2,456.4 552.9,450.0 562.0,459.0 C571.1,468.0 571.3,468.3 576.0,473.0 C571.7,470.2 572.1,471.1 563.0,464.5 C553.9,457.9 559.5,462.4 548.7,453.2 C537.9,444.0 542.7,448.4 530.6,436.9 C518.5,425.4 524.6,430.9 512.5,418.8 C500.4,406.7 503.4,410.1 494.3,400.7 C485.2,391.3 491.9,394.7 485.3,390.5 C478.7,386.3 480.4,387.6 474.4,388.0 C468.4,388.4 471.4,392.2 467.2,391.6 C463.0,391.0 463.6,391.1 461.7,386.2 C459.8,381.3 465.1,383.7 461.5,377.0 C457.9,370.3 458.1,374.0 450.9,366.2 C443.7,358.4 446.5,360.2 440.0,353.5 C433.5,346.8 437.9,352.2 431.4,346.0 C424.9,339.8 427.2,341.5 420.6,335.0 C414.0,328.5 418.1,328.9 411.5,326.5 C404.9,324.1 406.1,325.0 400.7,327.8 C395.3,330.6 398.8,331.7 395.2,335.0 C391.6,338.3 393.1,338.4 389.8,337.8 C386.5,337.2 386.1,337.8 385.3,333.3 C384.5,328.8 386.1,330.9 387.5,324.2 C388.9,317.5 391.8,319.9 389.5,313.3 C387.2,306.7 388.5,310.9 380.7,304.3 C372.9,297.7 377.1,301.8 366.2,293.4 C355.3,285.0 360.8,287.5 348.0,279.0 C335.2,270.5 340.6,275.6 327.8,268.0 C315.0,260.4 321.7,263.2 309.6,256.2 C297.5,249.2 303.6,252.7 291.5,247.0 C279.4,241.3 285.5,244.7 273.4,239.0 C261.3,233.3 267.4,234.7 255.3,229.9 C243.2,225.1 248.7,226.3 237.2,224.5 C225.7,222.7 226.3,224.5 220.9,224.5 Z" fill="url(#weave)"/>
<path d="M563.0,464.5 C558.2,460.7 559.5,462.4 548.7,453.2 C537.9,444.0 542.7,448.4 530.6,436.9 C518.5,425.4 524.6,430.9 512.5,418.8 C500.4,406.7 503.4,410.1 494.3,400.7 C485.2,391.3 491.9,394.7 485.3,390.5 C478.7,386.3 480.4,387.6 474.4,388.0 C468.4,388.4 471.4,392.2 467.2,391.6 C463.0,391.0 463.6,391.1 461.7,386.2 C459.8,381.3 465.1,383.7 461.5,377.0 C457.9,370.3 458.1,374.0 450.9,366.2 C443.7,358.4 446.5,360.2 440.0,353.5 C433.5,346.8 437.9,352.2 431.4,346.0 C424.9,339.8 427.2,341.5 420.6,335.0 C414.0,328.5 418.1,328.9 411.5,326.5 C404.9,324.1 406.1,325.0 400.7,327.8 C395.3,330.6 398.8,331.7 395.2,335.0 C391.6,338.3 393.1,338.4 389.8,337.8 C386.5,337.2 386.1,337.8 385.3,333.3 C384.5,328.8 386.1,330.9 387.5,324.2 C388.9,317.5 391.8,319.9 389.5,313.3 C387.2,306.7 388.5,310.9 380.7,304.3 C372.9,297.7 377.1,301.8 366.2,293.4 C355.3,285.0 360.8,287.5 348.0,279.0 C335.2,270.5 340.6,275.6 327.8,268.0 C315.0,260.4 321.7,263.2 309.6,256.2 C297.5,249.2 303.6,252.7 291.5,247.0 C279.4,241.3 285.5,244.7 273.4,239.0 C261.3,233.3 267.4,234.7 255.3,229.9 C243.2,225.1 243.2,226.3 237.2,224.5" fill="none" stroke="#3a3a3a" stroke-opacity="0.55" stroke-width="1.2"/>
<path d="M627.0,499.3 C623.0,498.8 624.0,499.8 615.0,497.8 C606.0,495.8 610.0,497.1 600.0,493.3 C590.0,489.5 595.0,491.9 585.0,486.3 C575.0,480.7 580.0,483.8 570.0,476.5 C560.0,469.2 565.0,472.5 555.0,464.5 C545.0,456.5 545.0,456.5 540.0,452.5" fill="none" stroke="#777" stroke-opacity="0.7" stroke-width="1.1" transform="translate(0.3,-0.9)"/>
<g clip-path="url(#cpBody)" style="mix-blend-mode:overlay" opacity="0.28"><rect x="215" y="205" width="425" height="300" filter="url(#grain)"/></g>
<!-- shank -->
<path d="M441.0,497.0 C432.4,494.7 430.5,494.0 415.2,490.0 C399.9,486.0 408.7,488.1 395.0,485.0 C381.3,481.9 388.0,483.6 374.2,480.8 C360.4,478.0 367.3,479.4 353.5,476.6 C339.7,473.8 346.6,475.3 332.8,472.5 C319.0,469.7 325.8,471.1 312.0,468.3 C298.2,465.5 306.5,468.0 291.4,464.2 C276.3,460.4 274.9,459.4 266.6,457.0" fill="none" stroke="#1d1d1d" stroke-width="7.6" stroke-dasharray="2.7 1.6" transform="translate(-0.5,0.4)"/>
<path d="M498,517.5 L523,526 L523.5,528.2 L512,527 L497,520.5 Z M548,532.5 L552,535.8 L556,536 L557,534 Z M566,535 L569,537.5 L573,537.3 L574,535.6 Z" fill="#222"/>
<path d="M131.6,406.6 C140.7,403.6 141.1,402.5 158.8,397.5 C176.5,392.5 167.4,394.8 184.7,391.6 C202.0,388.4 193.4,389.9 210.6,388.0 C227.8,386.1 220.0,386.9 236.4,385.9 C252.8,384.9 251.9,385.3 259.7,385.0 L265.6,385.1 Q271.5,385.2 271.8,392.2 L272.4,410.3 Q272.6,415.3 277.3,415.3 L277.3,415.3 Q282.0,415.3 282.3,410.3 L283.2,393.5 Q283.6,386.0 291.1,386.7 L327.3,390.3 Q334.8,391.0 334.4,398.5 L333.1,422.6 Q332.8,427.6 337.4,427.6 L337.4,427.6 Q342.0,427.6 342.8,422.7 L345.4,405.9 Q346.6,398.0 354.3,400.1 L390.7,410.2 Q398.4,412.3 397.1,420.2 L393.4,441.4 Q392.6,446.3 397.1,446.3 L397.1,446.3 Q401.6,446.3 402.9,441.5 L406.6,428.0 Q408.5,421.3 415.3,422.9 L425.9,425.4 C434.5,430.6 434.5,429.7 451.7,440.9 C468.9,452.1 460.3,446.1 477.6,459.0 C494.9,471.9 490.6,467.7 503.5,479.7 C516.4,491.7 507.8,485.6 516.4,495.0 C525.0,504.4 520.8,500.2 529.4,508.0 C538.0,515.8 533.7,512.8 542.3,518.5 C550.9,524.2 546.6,521.2 555.2,525.0 C563.8,528.8 559.3,526.7 568.2,530.0 C577.1,533.3 577.4,533.3 582.0,535.0 C577.3,535.2 580.4,536.2 568.0,535.5 C555.6,534.8 562.1,536.3 544.9,533.0 C527.7,529.7 531.9,530.3 516.4,525.5 C500.9,520.7 513.8,525.0 498.3,518.5 C482.8,512.0 489.1,513.2 470.0,506.0 C450.9,498.8 459.3,502.3 441.0,497.0 C422.7,491.7 430.5,494.0 415.2,490.0 C399.9,486.0 408.7,488.1 395.0,485.0 C381.3,481.9 388.0,483.6 374.2,480.8 C360.4,478.0 367.3,479.4 353.5,476.6 C339.7,473.8 346.6,475.3 332.8,472.5 C319.0,469.7 325.8,471.1 312.0,468.3 C298.2,465.5 306.5,468.0 291.4,464.2 C276.3,460.4 280.4,461.2 266.6,457.0 C252.8,452.8 264.4,455.0 250.0,451.5 C235.6,448.0 241.0,449.7 223.5,446.5 C206.0,443.3 214.9,445.2 197.6,442.0 C180.3,438.8 188.9,441.0 171.7,437.0 C154.5,433.0 158.0,436.3 145.9,430.0 C133.8,423.7 140.3,426.0 135.5,418.2 C130.7,410.4 132.9,410.5 131.6,406.6 Z" fill="#131313"/>
<path d="M131.6,406.6 C136.1,406.1 133.9,405.8 145.0,405.0 C156.1,404.2 147.5,404.2 165.0,404.3 C182.5,404.4 173.8,403.1 197.6,405.3 C221.4,407.5 218.9,407.8 236.4,411.0 C253.9,414.2 235.1,412.4 250.0,415.0 C264.9,417.6 264.3,416.4 281.0,418.7 C297.7,421.0 289.7,419.6 300.0,422.0 C310.3,424.4 305.7,423.3 312.0,426.0 C318.3,428.7 316.7,428.7 319.0,430.0 L320.8,432.0 Q322.5,434.0 322.8,437.0 L324.5,452.5 Q324.8,455.5 327.8,455.5 L328.0,455.5 Q331.0,455.5 332.0,452.7 L335.0,444.0 Q336.0,441.2 339.0,441.0 L347.3,440.4 C351.5,441.3 351.0,440.6 360.0,443.0 C369.0,445.4 362.5,442.9 374.2,447.6 C385.9,452.3 384.4,451.5 395.0,457.0 C405.6,462.5 402.3,461.7 406.0,464.0 L408.7,466.1 Q411.0,468.0 411.8,470.9 L413.7,477.6 Q414.5,480.5 417.2,480.2 L417.2,480.2 Q420.0,480.0 422.7,478.7 L422.9,478.5 Q425.6,477.2 428.6,477.5 L441.0,479.0 C447.3,481.6 447.0,481.1 460.0,486.8 C473.0,492.5 467.3,489.8 480.0,496.0 C492.7,502.2 485.9,498.2 498.0,505.5 C510.1,512.8 505.7,511.5 516.4,518.0 C527.1,524.5 520.5,520.8 530.0,525.0 C539.5,529.2 527.6,527.2 544.9,530.5 C562.2,533.8 569.6,533.5 582.0,535.0 C577.3,535.2 580.4,536.2 568.0,535.5 C555.6,534.8 562.1,536.3 544.9,533.0 C527.7,529.7 531.9,530.3 516.4,525.5 C500.9,520.7 513.8,525.0 498.3,518.5 C482.8,512.0 489.1,513.2 470.0,506.0 C450.9,498.8 459.3,502.3 441.0,497.0 C422.7,491.7 430.5,494.0 415.2,490.0 C399.9,486.0 408.7,488.1 395.0,485.0 C381.3,481.9 388.0,483.6 374.2,480.8 C360.4,478.0 367.3,479.4 353.5,476.6 C339.7,473.8 346.6,475.3 332.8,472.5 C319.0,469.7 325.8,471.1 312.0,468.3 C298.2,465.5 306.5,468.0 291.4,464.2 C276.3,460.4 280.4,461.2 266.6,457.0 C252.8,452.8 264.4,455.0 250.0,451.5 C235.6,448.0 241.0,449.7 223.5,446.5 C206.0,443.3 214.9,445.2 197.6,442.0 C180.3,438.8 188.9,441.0 171.7,437.0 C154.5,433.0 158.0,436.3 145.9,430.0 C133.8,423.7 140.3,426.0 135.5,418.2 C130.7,410.4 132.9,410.5 131.6,406.6 Z" fill="#2b2b2b"/>
<g clip-path="url(#cpFace)"><path d="M131.6,406.6 C136.1,406.1 133.9,405.8 145.0,405.0 C156.1,404.2 147.5,404.2 165.0,404.3 C182.5,404.4 173.8,403.1 197.6,405.3 C221.4,407.5 218.9,407.8 236.4,411.0 C253.9,414.2 235.1,412.4 250.0,415.0 C264.9,417.6 264.3,416.4 281.0,418.7 C297.7,421.0 289.7,419.6 300.0,422.0 C310.3,424.4 305.7,423.3 312.0,426.0 C318.3,428.7 316.7,428.7 319.0,430.0 L320.8,432.0 Q322.5,434.0 322.8,437.0 L324.5,452.5 Q324.8,455.5 327.8,455.5 L328.0,455.5 Q331.0,455.5 332.0,452.7 L335.0,444.0 Q336.0,441.2 339.0,441.0 L347.3,440.4 C351.5,441.3 351.0,440.6 360.0,443.0 C369.0,445.4 362.5,442.9 374.2,447.6 C385.9,452.3 384.4,451.5 395.0,457.0 C405.6,462.5 402.3,461.7 406.0,464.0 L408.7,466.1 Q411.0,468.0 411.8,470.9 L413.7,477.6 Q414.5,480.5 417.2,480.2 L417.2,480.2 Q420.0,480.0 422.7,478.7 L422.9,478.5 Q425.6,477.2 428.6,477.5 L441.0,479.0 C447.3,481.6 447.0,481.1 460.0,486.8 C473.0,492.5 467.3,489.8 480.0,496.0 C492.7,502.2 485.9,498.2 498.0,505.5 C510.1,512.8 505.7,511.5 516.4,518.0 C527.1,524.5 520.5,520.8 530.0,525.0 C539.5,529.2 527.6,527.2 544.9,530.5 C562.2,533.8 569.6,533.5 582.0,535.0" fill="none" stroke="#434343" stroke-width="22" filter="url(#b4)"/></g>
<path d="M131.6,406.6 C136.1,406.1 133.9,405.8 145.0,405.0 C156.1,404.2 147.5,404.2 165.0,404.3 C182.5,404.4 173.8,403.1 197.6,405.3 C221.4,407.5 218.9,407.8 236.4,411.0 C253.9,414.2 235.1,412.4 250.0,415.0 C264.9,417.6 264.3,416.4 281.0,418.7 C297.7,421.0 289.7,419.6 300.0,422.0 C310.3,424.4 305.7,423.3 312.0,426.0 C318.3,428.7 316.7,428.7 319.0,430.0 L320.8,432.0 Q322.5,434.0 322.8,437.0 L324.5,452.5 Q324.8,455.5 327.8,455.5 L328.0,455.5 Q331.0,455.5 332.0,452.7 L335.0,444.0 Q336.0,441.2 339.0,441.0 L347.3,440.4 C351.5,441.3 351.0,440.6 360.0,443.0 C369.0,445.4 362.5,442.9 374.2,447.6 C385.9,452.3 384.4,451.5 395.0,457.0 C405.6,462.5 402.3,461.7 406.0,464.0 L408.7,466.1 Q411.0,468.0 411.8,470.9 L413.7,477.6 Q414.5,480.5 417.2,480.2 L417.2,480.2 Q420.0,480.0 422.7,478.7 L422.9,478.5 Q425.6,477.2 428.6,477.5 L441.0,479.0 C447.3,481.6 447.0,481.1 460.0,486.8 C473.0,492.5 467.3,489.8 480.0,496.0 C492.7,502.2 485.9,498.2 498.0,505.5 C510.1,512.8 505.7,511.5 516.4,518.0 C527.1,524.5 520.5,520.8 530.0,525.0 C539.5,529.2 527.6,527.2 544.9,530.5 C562.2,533.8 569.6,533.5 582.0,535.0 C577.3,535.2 580.4,536.2 568.0,535.5 C555.6,534.8 562.1,536.3 544.9,533.0 C527.7,529.7 531.9,530.3 516.4,525.5 C500.9,520.7 513.8,525.0 498.3,518.5 C482.8,512.0 489.1,513.2 470.0,506.0 C450.9,498.8 459.3,502.3 441.0,497.0 C422.7,491.7 430.5,494.0 415.2,490.0 C399.9,486.0 408.7,488.1 395.0,485.0 C381.3,481.9 388.0,483.6 374.2,480.8 C360.4,478.0 367.3,479.4 353.5,476.6 C339.7,473.8 346.6,475.3 332.8,472.5 C319.0,469.7 325.8,471.1 312.0,468.3 C298.2,465.5 306.5,468.0 291.4,464.2 C276.3,460.4 280.4,461.2 266.6,457.0 C252.8,452.8 264.4,455.0 250.0,451.5 C235.6,448.0 241.0,449.7 223.5,446.5 C206.0,443.3 214.9,445.2 197.6,442.0 C180.3,438.8 188.9,441.0 171.7,437.0 C154.5,433.0 158.0,436.3 145.9,430.0 C133.8,423.7 140.3,426.0 135.5,418.2 C130.7,410.4 132.9,410.5 131.6,406.6 Z" fill="url(#hatch)"/>
<g clip-path="url(#cpShank)" style="mix-blend-mode:overlay" opacity="0.35"><rect x="128" y="380" width="460" height="160" filter="url(#grain)"/></g>
<!-- cushion -->
<path d="M139.3,554 Q139.2,551.3 142.5,550.6 C154,548 166,547.6 177.5,548 C190,548.4 201,549 213,550 C225,551 237,552.6 248.8,554.2 C261,555.9 272,557 284.4,558.4 C293,559.5 301,561 310.3,562.4 L310.5,567.8 C301,568.8 293,569.5 284.4,569.9 C272,570.4 261,570.5 248.8,570.3 C237,570.1 225,569.8 213,569.2 C201,568.4 189,567.3 177.5,565.8 C169,564.7 161,563.4 153.8,561.9 C148,560.9 144,560 141.5,559.2 Q139.4,558.2 139.3,554 Z" fill="#1a71cb"/>
<path d="M139.3,554 Q139.2,551.3 142.5,550.6 C154,548 166,547.6 177.5,548 C190,548.4 201,549 213,550 C225,551 237,552.6 248.8,554.2 C261,555.9 272,557 284.4,558.4 C293,559.5 301,561 310.3,562.4 C301,563.4 293,564 284.4,564.2 C272,564.5 261,564.5 248.8,564.3 C237,564 225,563.6 213,563 C201,562.3 189,561.3 177.5,560 C169,559 161,557.9 153.8,556.9 C148,556 143,555.2 139.3,554 Z" fill="#1e7fd9"/>
<!-- callouts -->
<g fill="none" stroke="#1b76bc" stroke-width="2.2" stroke-linejoin="miter">
 <polyline points="179.4,49.5 179.4,181.5 237.6,400"/>
 <polyline points="516.5,21.5 516.5,88 484,134"/>
 <polyline points="154.5,727 154.5,613.5 187.5,572"/>
 <polyline points="513.8,386 513.8,727"/>
</g>
<g fill="none" stroke="#1f88dc" stroke-width="3">
 <circle cx="240.9" cy="410.6" r="10.3"/>
 <circle cx="477.4" cy="143.2" r="10.3"/>
 <circle cx="194.2" cy="563.3" r="10.1" stroke="#2d97e8" stroke-width="2.9"/>
 <circle cx="514.9" cy="375" r="10.3"/>
</g>
<g id="labels">
<text transform="translate(81.60,77.0) skewX(-5) scale(0.6,1)" textLength="120.00" lengthAdjust="spacing" word-spacing="5" font-size="29.7" fill="#0b0b0b" stroke="#0b0b0b" stroke-width="0.5">SHANK</text>
<text transform="translate(44.60,115.2) skewX(-5) scale(0.6,1)" textLength="185.00" lengthAdjust="spacing" word-spacing="5" font-size="29.7" fill="url(#tg1)" stroke="url(#tg1)" stroke-width="0.5">STABILITY</text>
<text transform="translate(113.00,147.2) skewX(-5) scale(0.6,1)" textLength="76.00" lengthAdjust="spacing" word-spacing="5" font-size="29.7" fill="url(#tg2)" stroke="url(#tg2)" stroke-width="0.5">AND</text>
<text transform="translate(53.00,178.7) skewX(-5) scale(0.6,1)" textLength="172.00" lengthAdjust="spacing" word-spacing="5" font-size="29.7" fill="url(#tg3)" stroke="url(#tg3)" stroke-width="0.5">SUPPORT</text>
<text transform="translate(530.60,49.4) skewX(-5) scale(0.6,1)" textLength="203.00" lengthAdjust="spacing" word-spacing="5" font-size="29.7" fill="#0b0b0b" stroke="#0b0b0b" stroke-width="0.5">TOP CLOTH</text>
<text transform="translate(529.60,79.6) skewX(-5) scale(0.6,1)" textLength="313.00" lengthAdjust="spacing" word-spacing="5" font-size="29.7" fill="url(#tg5)" stroke="url(#tg5)" stroke-width="0.5">ANTI-BACTERIAL</text>
<text transform="translate(181.60,656) skewX(-5) scale(0.6,1)" textLength="164.67" lengthAdjust="spacing" word-spacing="5" font-size="29.7" fill="#0b0b0b" stroke="#0b0b0b" stroke-width="0.5">CUSHION</text>
<text transform="translate(182.50,696) skewX(-5) scale(0.6,1)" textLength="330.17" lengthAdjust="spacing" word-spacing="5" font-size="29.7" fill="url(#tg7)" stroke="url(#tg7)" stroke-width="0.5">SUPERIOR SHOCK</text>
<text transform="translate(182.00,726.7) skewX(-5) scale(0.6,1)" textLength="245.67" lengthAdjust="spacing" word-spacing="5" font-size="29.7" fill="url(#tg8)" stroke="url(#tg8)" stroke-width="0.5">ABSORPTION</text>
<text transform="translate(537.00,658) skewX(-5) scale(0.6,1)" textLength="93.33" lengthAdjust="spacing" word-spacing="5" font-size="29.7" fill="#0b0b0b" stroke="#0b0b0b" stroke-width="0.5">BODY</text>
<text transform="translate(536.00,697.5) skewX(-5) scale(0.6,1)" textLength="330.00" lengthAdjust="spacing" word-spacing="5" font-size="29.7" fill="url(#tg10)" stroke="url(#tg10)" stroke-width="0.5">CUSHIONING AND</text>
<text transform="translate(536.00,727.5) skewX(-5) scale(0.6,1)" textLength="176.67" lengthAdjust="spacing" word-spacing="5" font-size="29.7" fill="url(#tg11)" stroke="url(#tg11)" stroke-width="0.5">COMFORT</text>
</g>
<use href="#labels" x="0.9"/><use href="#labels" x="-0.9"/>
</svg>
</body></html>
